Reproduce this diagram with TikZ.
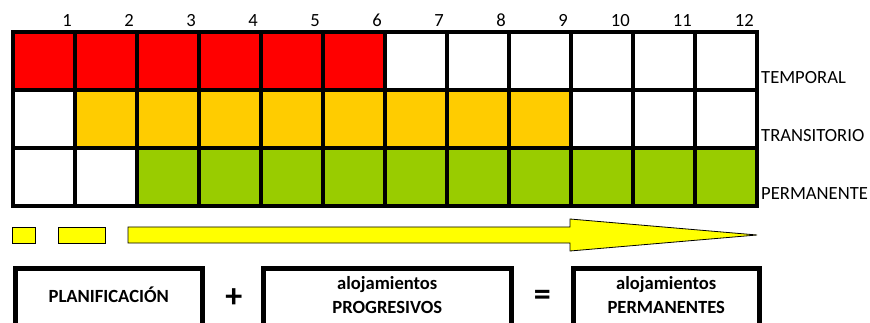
\documentclass[tikz,border=0pt]{standalone}
\usepackage{fontspec}
\setmainfont{Carlito}
\usetikzlibrary{math,calc,positioning}
\definecolor{rojo}{HTML}{FF0000}
\definecolor{naranja}{HTML}{FFCC00}
\definecolor{verde}{HTML}{99CC00}
\definecolor{amarillo}{HTML}{FFFF00}

\begin{document}
\begin{tikzpicture}[x=1pt,y=-1pt,
    cell/.style={draw=black, fill=white, line width=4pt, minimum width=62pt, minimum height=58pt, inner sep=0pt, outer sep=0pt},
    num/.style={anchor=base east, inner sep=0pt, font=\fontsize{18.6}{22}\selectfont},
    fila/.style={anchor=base west, inner sep=0pt, font=\fontsize{18.6}{22}\selectfont},
    barra/.style={draw=black, fill=amarillo, line width=0.8pt},
    caja/.style={draw=black, line width=4.5pt, minimum height=64pt, anchor=north west, inner sep=0pt},
    rotulo/.style={align=center, inner sep=0pt, font=\fontsize{18.6}{24}\selectfont\bfseries},
    signo/.style={inner sep=0pt, font=\fontsize{34}{34}\selectfont\bfseries}]
      \tikzmath{\w = 62; \h = 58; \xo = 13; \yo = 32;}
      \clip (0,0) rectangle (870,323);
      % fila temporal
      \foreach \c in {1,...,6} \node[cell, fill=rojo] (t\c) at ({\xo+(\c-0.5)*\w}, {\yo+0.5*\h}) {};
      \foreach \c in {7,...,12} \node[cell] (t\c) at ({\xo+(\c-0.5)*\w}, {\yo+0.5*\h}) {};
      % fila transitorio
      \node[cell] (r1) at ({\xo+0.5*\w}, {\yo+1.5*\h}) {};
      \foreach \c in {2,...,9} \node[cell, fill=naranja] (r\c) at ({\xo+(\c-0.5)*\w}, {\yo+1.5*\h}) {};
      \foreach \c in {10,...,12} \node[cell] (r\c) at ({\xo+(\c-0.5)*\w}, {\yo+1.5*\h}) {};
      % fila permanente
      \foreach \c in {1,2} \node[cell] (p\c) at ({\xo+(\c-0.5)*\w}, {\yo+2.5*\h}) {};
      \foreach \c in {3,...,12} \node[cell, fill=verde] (p\c) at ({\xo+(\c-0.5)*\w}, {\yo+2.5*\h}) {};
      % numeros
      \foreach \c in {1,...,12} \node[num] (n\c) at ($(t\c.north east)+(-3,-5)$) {\c};
      \node[fila] (temporal) at ($(t12.south east)+(4,-6)$) {TEMPORAL};
      \node[fila] (transitorio) at ($(r12.south east)+(4,-6)$) {TRANSITORIO};
      \node[fila] (permanente) at ($(p12.south east)+(4,-6)$) {PERMANENTE};
      % flecha
      \draw[barra] (12,227) rectangle (35,243);
      \draw[barra] (58,227) rectangle (105,243);
      \draw[barra] (128,227) -- (570,227) -- (570,219) -- (757,235) -- (570,251) -- (570,243) -- (128,243) -- cycle;
      % cajas
      \node[caja, minimum width=187pt] (plan) at (13,266) {};
      \node[caja, minimum width=248pt] (prog) at (261,266) {};
      \node[caja, minimum width=186pt] (perm) at (571,266) {};
      \node[rotulo] (planT) at ($(plan.north)+(0,29)$) {PLANIFICACIÓN};
      \node[rotulo] (progT) at ($(prog.north)+(0,29)$) {alojamientos\\PROGRESIVOS};
      \node[rotulo] (permT) at ($(perm.north)+(0,29)$) {alojamientos\\PERMANENTES};
      \node[signo] (mas) at ($(plan.east |- planT)!0.5!(prog.west |- planT)+(1,3)$) {+};
      \node[signo] (igual) at ($(prog.east |- progT)!0.5!(perm.west |- progT)+(0,3)$) {=};
\end{tikzpicture}
\end{document}
